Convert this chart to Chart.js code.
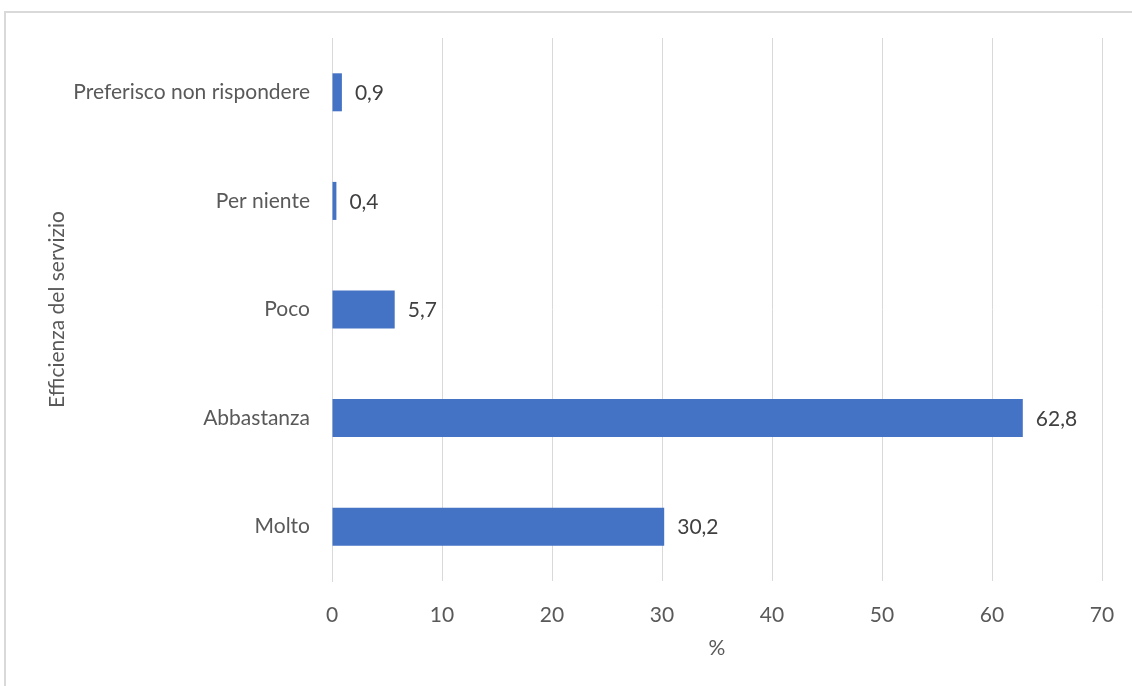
<!DOCTYPE html>
<html>
<head>
<meta charset="utf-8">
<script src="https://cdn.jsdelivr.net/npm/chart.js@4"></script>
<style>
  html, body { margin: 0; padding: 0; background: #fff; }
  .frame {
    position: absolute; left: 4px; top: 11px; width: 1140px; height: 690px;
    border-left: 2px solid #d9d9d9; border-top: 2px solid #d9d9d9;
  }
  .wrap { position: absolute; left: 0; top: 0; width: 1132px; height: 686px; }
</style>
</head>
<body>
<div class="frame"></div>
<div class="wrap"><canvas id="chart"></canvas></div>
<script>
const categories = ['Preferisco non rispondere', 'Per niente', 'Poco', 'Abbastanza', 'Molto'];
const percentages = [0.9, 0.4, 5.7, 62.8, 30.2];
const xTicks = [0, 10, 20, 30, 40, 50, 60, 70];

const FONT = "Lato, 'Open Sans', sans-serif";
const FSIZE = 21;
const textGray = '#595959';

// simple value labels at the end of each bar
const valueLabels = {
    id: 'valueLabels',
    afterDatasetsDraw(chart) {
        const ctx = chart.ctx;
        const meta = chart.getDatasetMeta(0);
        ctx.save();
        ctx.font = FSIZE + 'px ' + FONT;
        ctx.fillStyle = '#404040';
        ctx.textAlign = 'left';
        ctx.textBaseline = 'middle';
        meta.data.forEach((bar, i) => {
            ctx.fillText(percentages[i].toFixed(1).replace('.', ','), bar.x + 13, bar.y + 1);
        });
        ctx.restore();
    }
};

new Chart(document.getElementById('chart'), {
    type: 'bar',
    data: {
        labels: categories,
        datasets: [{
            data: percentages,
            backgroundColor: '#4472C4',
            barPercentage: 0.35,
            categoryPercentage: 1.0
        }]
    },
    options: {
        indexAxis: 'y',
        responsive: true,
        maintainAspectRatio: false,
        animation: false,
        layout: { padding: { top: 38, right: 30, left: 45, bottom: 0 } },
        scales: {
            x: {
                min: 0, max: 70,
                afterBuildTicks: (s) => { s.ticks = xTicks.map(v => ({ value: v })); },
                afterFit: (s) => { s.height = 105; s.paddingRight = 0; },
                grid: { color: '#d9d9d9', drawTicks: false, lineWidth: 1 },
                border: { display: false },
                ticks: { color: textGray, font: { family: FONT, size: FSIZE }, padding: 22 },
                title: { display: true, text: '%', color: textGray, font: { family: FONT, size: FSIZE }, padding: { top: 4, bottom: 25 } }
            },
            y: {
                afterFit: (s) => { s.width = 287; },
                grid: { display: false, drawTicks: false },
                border: { display: true, color: '#d9d9d9', width: 1 },
                ticks: { color: textGray, font: { family: FONT, size: FSIZE }, padding: 22 },
                title: { display: true, text: 'Efficienza del servizio', color: textGray, font: { family: FONT, size: FSIZE }, padding: 0 }
            }
        },
        plugins: {
            legend: { display: false },
            tooltip: { enabled: false }
        }
    },
    plugins: [valueLabels]
});
</script>
</body>
</html>
